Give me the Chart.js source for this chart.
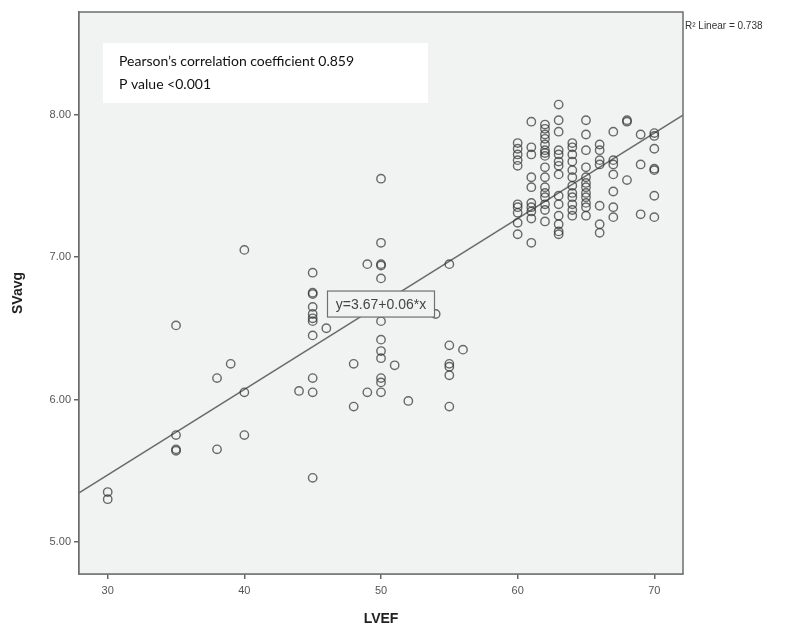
<!DOCTYPE html>
<html>
<head>
<meta charset="utf-8">
<script src="https://cdn.jsdelivr.net/npm/chart.js@4.4.1/dist/chart.umd.min.js"></script>
<style>
  html, body { margin: 0; padding: 0; background: #fff; }
  #wrap { width: 792px; height: 630px; position: relative; }
</style>
</head>
<body>
<div id="wrap"><canvas id="scatter"></canvas></div>
<script>
// LVEF (x) and SVavg (y)
const lvef = [
    30, 30, 35, 35, 35, 35, 38, 38, 39, 40, 40, 40, 44,
    45, 45, 45, 45, 45, 45, 45, 45, 45, 45, 45, 46, 48, 48, 49, 49,
    50, 50, 50, 50, 50, 50, 50, 50, 50, 50, 50, 50, 51, 52, 54,
    55, 55, 55, 55, 55, 55, 56,
    60, 60, 60, 60, 60, 60, 60, 60, 60, 60,
    61, 61, 61, 61, 61, 61, 61, 61, 61, 61,
    62, 62, 62, 62, 62, 62, 62, 62, 62, 62, 62, 62, 62, 62, 62, 62,
    63, 63, 63, 63, 63, 63, 63, 63, 63, 63, 63, 63, 63, 63,
    64, 64, 64, 64, 64, 64, 64, 64, 64, 64, 64, 64,
    65, 65, 65, 65, 65, 65, 65, 65, 65, 65, 65, 65,
    66, 66, 66, 66, 66, 66, 66,
    67, 67, 67, 67, 67, 67, 67,
    68, 68, 68, 69, 69, 69,
    70, 70, 70, 70, 70, 70, 70
];
const svavg = [
    5.35, 5.30, 6.52, 5.75, 5.65, 5.64, 6.15, 5.65, 6.25, 7.05, 6.05, 5.75, 6.06,
    6.89, 6.75, 6.74, 6.65, 6.60, 6.57, 6.55, 6.45, 6.15, 6.05, 5.45, 6.50, 6.25, 5.95, 6.95, 6.05,
    7.55, 7.10, 6.95, 6.94, 6.85, 6.55, 6.42, 6.34, 6.29, 6.15, 6.12, 6.05, 6.24, 5.99, 6.60,
    6.95, 6.38, 6.25, 6.23, 6.17, 5.95, 6.35,
    7.80, 7.76, 7.72, 7.68, 7.64, 7.37, 7.35, 7.31, 7.24, 7.16,
    7.95, 7.77, 7.72, 7.56, 7.49, 7.38, 7.35, 7.32, 7.27, 7.10,
    7.93, 7.90, 7.86, 7.83, 7.79, 7.75, 7.73, 7.71, 7.63, 7.56, 7.49, 7.45, 7.42, 7.37, 7.33, 7.25,
    8.07, 7.96, 7.88, 7.75, 7.72, 7.67, 7.64, 7.58, 7.43, 7.37, 7.29, 7.23, 7.18, 7.16,
    7.80, 7.77, 7.72, 7.67, 7.61, 7.56, 7.50, 7.45, 7.42, 7.37, 7.33, 7.29,
    7.96, 7.86, 7.75, 7.63, 7.56, 7.52, 7.49, 7.45, 7.42, 7.38, 7.35, 7.29,
    7.79, 7.75, 7.68, 7.65, 7.36, 7.23, 7.17,
    7.88, 7.68, 7.65, 7.58, 7.46, 7.35, 7.28,
    7.96, 7.95, 7.54, 7.86, 7.65, 7.30,
    7.87, 7.85, 7.76, 7.62, 7.61, 7.43, 7.28
];

const xTicks = [30, 40, 50, 60, 70];
const yTicks = [5, 6, 7, 8];

// fit line as printed on the chart
const intercept = 3.67;
const slope = 0.06;
const fitLabel = 'y=3.67+0.06*x';
const r2Label = 'R\u00B2 Linear = 0.738';
const statLines = ['Pearson\u2019s correlation coefficient 0.859', 'P value <0.001'];

const xMin = 27.9, xMax = 72.1;
const yMin = 4.775, yMax = 8.72;

const points = lvef.map((x, i) => ({ x: x, y: svavg[i] }));
const fitLine = [xMin, xMax].map(x => ({ x: x, y: intercept + slope * x }));

const plotBg = '#f1f2f2';

const framePlugin = {
    id: 'frame',
    beforeDatasetsDraw(chart) {
        const { ctx, chartArea: a } = chart;
        ctx.save();
        ctx.fillStyle = plotBg;
        ctx.fillRect(a.left, a.top, a.right - a.left, a.bottom - a.top);
        ctx.restore();
    },
    afterDatasetsDraw(chart) {
        const { ctx, chartArea: a, scales } = chart;
        ctx.save();
        // plot frame
        ctx.strokeStyle = '#6e6e6e';
        ctx.lineWidth = 1.5;
        ctx.strokeRect(a.left, a.top, a.right - a.left, a.bottom - a.top);

        // fit equation label box
        const cx = scales.x.getPixelForValue(50);
        const cy = scales.y.getPixelForValue(6.67);
        const w = 107, h = 26;
        ctx.fillStyle = plotBg;
        ctx.fillRect(cx - w / 2, cy - h / 2, w, h);
        ctx.strokeStyle = '#707070';
        ctx.lineWidth = 1.2;
        ctx.strokeRect(cx - w / 2, cy - h / 2, w, h);
        ctx.fillStyle = '#444';
        ctx.textAlign = 'center';
        ctx.textBaseline = 'middle';
        ctx.font = '14px "Liberation Sans Narrow", "Liberation Sans", Arial, sans-serif';
        ctx.fillText(fitLabel, cx, cy + 1, w - 6);

        // statistics box (pasted-on white note)
        const bx = a.left + 24, by = a.top + 31;
        ctx.fillStyle = '#ffffff';
        ctx.fillRect(bx, by, 325, 60);
        ctx.fillStyle = '#111';
        ctx.textAlign = 'left';
        ctx.font = '14px Lato, "Open Sans", sans-serif';
        ctx.fillText(statLines[0], bx + 16, by + 18);
        ctx.fillText(statLines[1], bx + 16, by + 41);

        // R squared, outside the plot at top right
        ctx.fillStyle = '#333';
        ctx.font = '10px "Liberation Sans", Arial, sans-serif';
        ctx.fillText(r2Label, a.right + 2, a.top + 14);
        ctx.restore();
    }
};

new Chart(document.getElementById('scatter'), {
    type: 'scatter',
    data: {
        datasets: [
            {
                type: 'line',
                data: fitLine,
                borderColor: '#6a6a6a',
                borderWidth: 1.6,
                pointRadius: 0,
                fill: false,
                order: 2
            },
            {
                data: points,
                pointStyle: 'circle',
                pointRadius: 4.2,
                pointBorderWidth: 1.4,
                borderColor: 'rgba(50,50,50,0.72)',
                backgroundColor: 'rgba(0,0,0,0)',
                order: 1
            }
        ]
    },
    options: {
        responsive: true,
        maintainAspectRatio: false,
        animation: false,
        layout: { padding: { top: 12, right: 109, bottom: 0, left: 0 } },
        plugins: {
            legend: { display: false },
            tooltip: { enabled: false }
        },
        scales: {
            x: {
                type: 'linear',
                min: xMin,
                max: xMax,
                afterBuildTicks: s => { s.ticks = xTicks.map(v => ({ value: v })); },
                afterFit: s => { s.height = 56; },
                ticks: {
                    color: '#555',
                    padding: 5,
                    font: { family: '"Liberation Sans", Arial, sans-serif', size: 11 },
                    callback: v => String(v)
                },
                grid: { drawOnChartArea: false, drawTicks: true, tickLength: 5, color: '#666', lineWidth: 1.5 },
                border: { display: true, color: '#6e6e6e', width: 1.5 },
                title: {
                    display: true,
                    text: 'LVEF',
                    color: '#222',
                    font: { family: '"Liberation Sans", Arial, sans-serif', size: 14, weight: 'bold' },
                    padding: { top: 0, bottom: 2 }
                }
            },
            y: {
                type: 'linear',
                min: yMin,
                max: yMax,
                afterBuildTicks: s => { s.ticks = yTicks.map(v => ({ value: v })); },
                afterFit: s => { s.width = 79; },
                ticks: {
                    color: '#555',
                    padding: 3,
                    font: { family: '"Liberation Sans", Arial, sans-serif', size: 11 },
                    callback: v => v.toFixed(2)
                },
                grid: { drawOnChartArea: false, drawTicks: true, tickLength: 5, color: '#666', lineWidth: 1.5 },
                border: { display: true, color: '#6e6e6e', width: 1.5 },
                title: {
                    display: true,
                    text: 'SVavg',
                    color: '#222',
                    font: { family: '"Liberation Sans", Arial, sans-serif', size: 14, weight: 'bold' },
                    padding: { top: 10, bottom: 0 }
                }
            }
        }
    },
    plugins: [framePlugin]
});
</script>
</body>
</html>
